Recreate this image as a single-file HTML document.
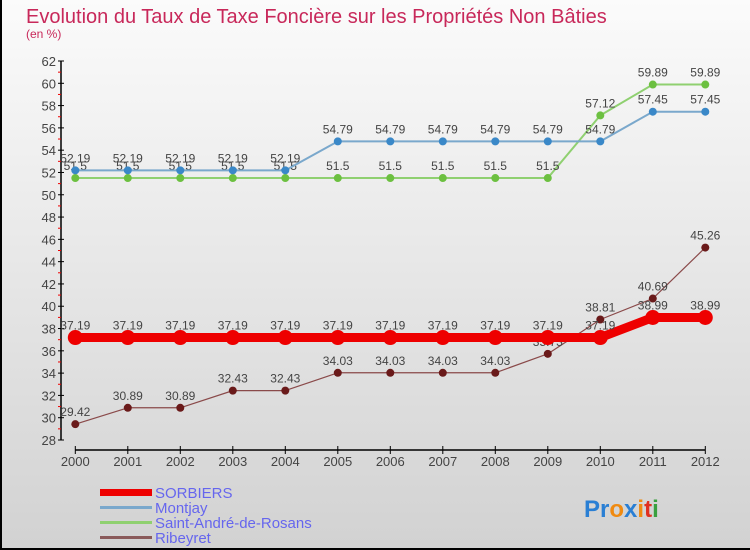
<!DOCTYPE html>
<html><head><meta charset="utf-8"><style>
body{margin:0;width:750px;height:550px;overflow:hidden;font-family:"Liberation Sans",sans-serif}
#bg{position:absolute;left:0;top:0;width:750px;height:550px;background:linear-gradient(#fbfbfb,#d2d2d2);border-left:2px solid #000;border-bottom:2px solid #000;box-sizing:border-box}
</style></head><body>
<div id="bg"></div>
<svg id="c" width="750" height="550" style="position:absolute;left:0;top:0">
<text x="26" y="23" font-size="20" fill="#c8285a">Evolution du Taux de Taxe Foncière sur les Propriétés Non Bâties</text>
<text x="26" y="38" font-size="12" fill="#c8285a">(en %)</text>
<g id="axes"></g><g id="series"></g>
<g>
<rect x="100" y="489" width="52" height="7" fill="#e00"/>
<text x="155" y="498" font-size="15" fill="#6666ee">SORBIERS</text>
<rect x="100" y="506" width="52" height="3" fill="#7aa8cc"/>
<text x="155" y="513" font-size="15" fill="#6666ee">Montjay</text>
<rect x="100" y="521" width="52" height="3" fill="#8fd070"/>
<text x="155" y="528" font-size="15" fill="#6666ee">Saint-André-de-Rosans</text>
<rect x="100" y="536" width="52" height="3" fill="#8a5a5a"/>
<text x="155" y="543" font-size="15" fill="#6666ee">Ribeyret</text>
</g>
<text x="584" y="517" font-size="24" font-weight="bold"><tspan fill="#2a7fd4">Pr</tspan><tspan fill="#f08a10">o</tspan><tspan fill="#2a7fd4">x</tspan><tspan fill="#f08a10">i</tspan><tspan fill="#e03020">t</tspan><tspan fill="#3aa040">i</tspan></text>
</svg>
<script>
const years=[2000,2001,2002,2003,2004,2005,2006,2007,2008,2009,2010,2011,2012];
const sorbiers=[37.19,37.19,37.19,37.19,37.19,37.19,37.19,37.19,37.19,37.19,37.19,38.99,38.99];
const montjay=[52.19,52.19,52.19,52.19,52.19,54.79,54.79,54.79,54.79,54.79,54.79,57.45,57.45];
const saintAndre=[51.5,51.5,51.5,51.5,51.5,51.5,51.5,51.5,51.5,51.5,57.12,59.89,59.89];
const ribeyret=[29.42,30.89,30.89,32.43,32.43,34.03,34.03,34.03,34.03,35.73,38.81,40.69,45.26];
const yTicks=[28,30,32,34,36,38,40,42,44,46,48,50,52,54,56,58,60,62];
const NS='http://www.w3.org/2000/svg';
const x=i=>75.3+i*52.5;
const y=v=>440-(v-28)*(379/34);
function mk(t,a,p){const e=document.createElementNS(NS,t);for(const k in a)e.setAttribute(k,a[k]);p.appendChild(e);return e;}
const ax=document.getElementById('axes');
let l=mk('line',{x1:61,y1:y(62),x2:61,y2:y(28),stroke:'#000','stroke-width':1.5},ax);


yTicks.forEach((v,k)=>{
 mk('line',{x1:58,x2:64,y1:y(v),y2:y(v),stroke:'#000'},ax);
 if(k<yTicks.length-1) mk('line',{x1:58,x2:61,y1:y(v+1),y2:y(v+1),stroke:'#e00'},ax);
 const t=mk('text',{x:56,y:y(v)+5,'font-size':13,fill:'#444','text-anchor':'end'},ax);
 t.textContent=v;
 
 
});
l=mk('line',{x1:x(0),x2:x(12),y1:450,y2:450,stroke:'#000','stroke-width':1.5},ax);


years.forEach((yr,i)=>{
 mk('line',{x1:x(i),x2:x(i),y1:446,y2:454,stroke:'#000'},ax);
 const t=mk('text',{x:x(i),y:466,'font-size':13,fill:'#444','text-anchor':'middle'},ax);
 t.textContent=yr;
 
 
});
const sg=document.getElementById('series');
function draw(vals,name,color,dot,w,r){
 const g=mk('g',{},sg);
 
 
 const p=mk('polyline',{points:vals.map((v,i)=>x(i)+','+y(v)).join(' '),fill:'none',stroke:color,'stroke-width':w,'stroke-linejoin':'round'},g);
 
 
 vals.forEach((v,i)=>{
  const c=mk('circle',{cx:x(i),cy:y(v),r:r,fill:dot},g);
  
  
  const t=mk('text',{x:x(i),y:y(v)-8,'font-size':12,fill:'#444','text-anchor':'middle'},g);
  t.textContent=v;
  
  
 });
}
draw(ribeyret,'ribeyret','#8a4a4a','#6a1a1a',1.2,4);
draw(saintAndre,'saint-andre','#8fd070','#6cc040',2,4);
draw(montjay,'montjay','#7aa8cc','#3a88c8',2,4);
draw(sorbiers,'sorbiers','#ee0000','#ee0000',9,7.5);
</script>
</body></html>
